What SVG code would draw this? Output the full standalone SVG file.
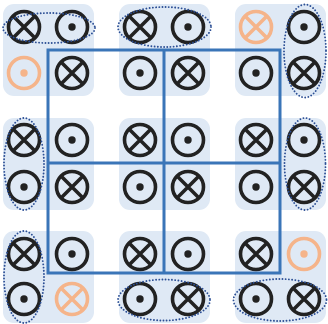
<svg xmlns="http://www.w3.org/2000/svg" width="328" height="324" viewBox="0 0 328 324">
<defs>
<style>
.bg{fill:#dfe9f5;stroke:none}
.c{fill:none;stroke:#222;stroke-width:3.6}
.o{fill:none;stroke:#f5b48a;stroke-width:3.6}
.dk{fill:#222}
.od{fill:#f5b48a}
.fr{fill:none;stroke:#3a75b8;stroke-width:3}
.el{fill:none;stroke:#2c4f95;stroke-width:1.9;stroke-dasharray:0.01 3.2;stroke-linecap:round}
</style>
<g id="X"><circle r="15.5" class="c"/><path d="M-11-11L11 11M11-11L-11 11" class="c"/></g>
<g id="D"><circle r="15.5" class="c"/><circle r="3.7" class="dk"/></g>
<g id="XO"><circle r="15.5" class="o"/><path d="M-11-11L11 11M11-11L-11 11" class="o"/></g>
<g id="DO"><circle r="15.5" class="o"/><circle r="3.7" class="od"/></g>
</defs>
<g id="blocks">
<rect class="bg" x="3" y="4" width="91" height="92" rx="11"/>
<rect class="bg" x="119" y="4" width="91" height="92" rx="11"/>
<rect class="bg" x="235" y="4" width="91" height="92" rx="11"/>
<rect class="bg" x="3" y="118" width="91" height="92" rx="11"/>
<rect class="bg" x="119" y="118" width="91" height="92" rx="11"/>
<rect class="bg" x="235" y="118" width="91" height="92" rx="11"/>
<rect class="bg" x="3" y="231" width="91" height="92" rx="11"/>
<rect class="bg" x="119" y="231" width="91" height="92" rx="11"/>
<rect class="bg" x="235" y="231" width="91" height="92" rx="11"/>
</g>
<g id="connectors">
<path class="fr" d="M48 50H280V273H48Z M164 50V273 M48 163H280"/>
</g>
<g id="n1"><use href="#X" x="24" y="27"/><use href="#D" x="72" y="27"/><use href="#DO" x="24" y="73"/><use href="#X" x="72" y="73"/><ellipse class="el" cx="49" cy="28" rx="46" ry="15"/></g>
<g id="n2"><use href="#X" x="140" y="27"/><use href="#D" x="188" y="27"/><use href="#D" x="140" y="73"/><use href="#X" x="188" y="73"/><ellipse class="el" cx="164.5" cy="27" rx="46.5" ry="20"/></g>
<g id="n3"><use href="#XO" x="256" y="27"/><use href="#D" x="304" y="27"/><use href="#D" x="256" y="73"/><use href="#X" x="304" y="73"/><ellipse class="el" cx="305" cy="51" rx="21" ry="46.5"/></g>
<g id="n4"><use href="#X" x="24" y="140"/><use href="#D" x="72" y="140"/><use href="#D" x="24" y="187"/><use href="#X" x="72" y="187"/><ellipse class="el" cx="24" cy="164" rx="20" ry="46"/></g>
<g id="n5"><use href="#X" x="140" y="140"/><use href="#D" x="188" y="140"/><use href="#D" x="140" y="187"/><use href="#X" x="188" y="187"/></g>
<g id="n6"><use href="#X" x="256" y="140"/><use href="#D" x="304" y="140"/><use href="#D" x="256" y="187"/><use href="#X" x="304" y="187"/><ellipse class="el" cx="305" cy="164" rx="20.5" ry="46"/></g>
<g id="n7"><use href="#X" x="24" y="254"/><use href="#D" x="72" y="254"/><use href="#D" x="24" y="299"/><use href="#XO" x="72" y="299"/><ellipse class="el" cx="24" cy="277" rx="20" ry="46"/></g>
<g id="n8"><use href="#X" x="140" y="254"/><use href="#D" x="188" y="254"/><use href="#D" x="140" y="299"/><use href="#X" x="188" y="299"/><ellipse class="el" cx="164" cy="300" rx="46" ry="20.5"/></g>
<g id="n9"><use href="#X" x="256" y="254"/><use href="#DO" x="304" y="254"/><use href="#D" x="256" y="299"/><use href="#X" x="304" y="299"/><ellipse class="el" cx="280" cy="300" rx="46.5" ry="21"/></g>
</svg>
